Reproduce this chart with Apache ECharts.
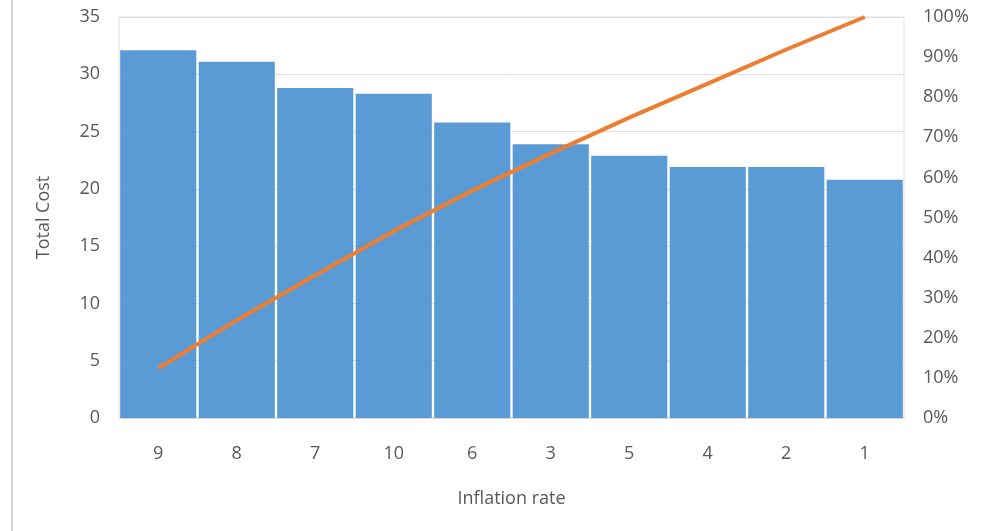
<!DOCTYPE html>
<html>
<head>
<meta charset="utf-8">
<script src="https://cdn.jsdelivr.net/npm/echarts@6/dist/echarts.min.js"></script>
<style>
  html, body { margin: 0; padding: 0; background: #fff; }
  #chart { width: 1002px; height: 531px; }
</style>
</head>
<body>
<div id="chart"></div>
<script>
// Inflation rate categories, sorted by total cost (Pareto order)
const categories = ['9', '8', '7', '10', '6', '3', '5', '4', '2', '1'];
// Total cost per category
const totalCost = [32.1, 31.1, 28.8, 28.3, 25.8, 23.9, 22.9, 21.9, 21.9, 20.8];
// Cumulative share of total cost, in percent
const cumulativePct = [12.4, 24.4, 35.6, 46.6, 56.7, 66.0, 74.9, 83.4, 91.9, 100];

const textColor = '#595959';
const font = '"Open Sans", "Noto Sans", sans-serif';
const fontSize = 18;

const chart = echarts.init(document.getElementById('chart'), null, { renderer: 'canvas' });
chart.setOption({
  animation: false,
  backgroundColor: '#fff',
  textStyle: { fontFamily: font },
  grid: { left: 119, right: 98, top: 17, bottom: 113, show: true, borderColor: '#e0e0e0', borderWidth: 1, backgroundColor: 'transparent' },
  graphic: [{
    type: 'line',
    shape: { x1: 12, y1: 0, x2: 12, y2: 531 },
    style: { stroke: '#d9d9d9', lineWidth: 2 }
  }],
  xAxis: {
    type: 'category',
    data: categories,
    name: 'Inflation rate',
    nameLocation: 'middle',
    nameGap: 72,
    nameTextStyle: { color: textColor, fontSize: fontSize, fontFamily: font },
    axisLine: { show: true, lineStyle: { color: '#d9d9d9' } },
    axisTick: { show: false },
    axisLabel: { color: textColor, fontSize: fontSize, margin: 27, fontFamily: font }
  },
  yAxis: [{
    type: 'value',
    min: 0, max: 35, interval: 5,
    name: 'Total Cost',
    nameLocation: 'middle',
    nameGap: 66,
    nameRotate: 90,
    nameTextStyle: { color: textColor, fontSize: fontSize, fontFamily: font },
    axisLine: { show: false },
    axisTick: { show: false },
    splitLine: { lineStyle: { color: '#e0e0e0', width: 1 } },
    axisLabel: { color: textColor, fontSize: fontSize, margin: 19, fontFamily: font }
  }, {
    type: 'value',
    min: 0, max: 100, interval: 10,
    position: 'right',
    axisLine: { show: false },
    axisTick: { show: false },
    splitLine: { show: false },
    axisLabel: { color: textColor, fontSize: fontSize, margin: 19, fontFamily: font, formatter: '{value}%' }
  }],
  series: [{
    name: 'Total Cost',
    type: 'bar',
    data: totalCost,
    barCategoryGap: '3%',
    itemStyle: { color: '#5B9BD5' }
  }, {
    name: 'Cumulative %',
    type: 'line',
    yAxisIndex: 1,
    data: cumulativePct,
    symbol: 'none',
    lineStyle: { color: '#ED7D31', width: 4 },
    z: 5
  }]
});
</script>
</body>
</html>
